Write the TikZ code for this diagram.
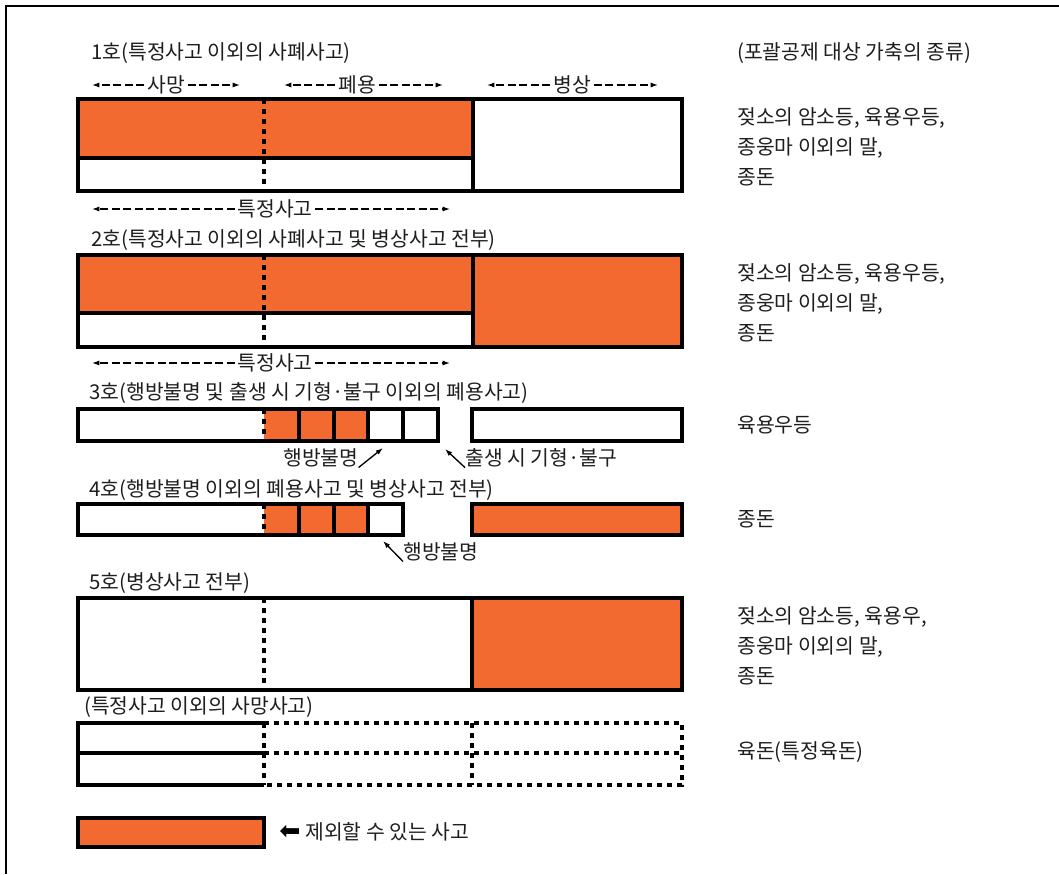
\documentclass[tikz,border=0pt]{standalone}
\usepackage{fontspec}
\setmainfont{Noto Sans CJK KR}
\newfontfamily\symfont{DejaVu Sans}
\usetikzlibrary{arrows.meta}
\definecolor{acc}{RGB}{242,106,48}
\definecolor{ink}{RGB}{30,30,30}
\begin{document}
\begin{tikzpicture}[x=0.75pt,y=-0.75pt,
  txt/.style={font=\fontsize{15.3}{18}\selectfont, inner sep=0pt, anchor=west, text=ink},
  ctxt/.style={font=\fontsize{15.3}{18}\selectfont, inner sep=2pt, text=ink},
  box/.style={line width=2.3pt, line join=miter},
  dotline/.style={line width=2.4pt, dash pattern=on 4pt off 3.5pt},
  dimarrow/.style={line width=0.9pt, dash pattern=on 6pt off 2.6pt, -{Latex[length=5.5pt,width=3.8pt]}},
  diag/.style={line width=1pt, -{Latex[length=5.5pt,width=3.8pt]}},
]
\useasboundingbox (0,0) rectangle (1059,874);
% frame
\draw[line width=1.1pt] (1059,6) -- (6,6) -- (6,874);

% ---------- 1호 ----------
\node[txt] (t1) at (91,53) {1호(특정사고 이외의 사폐사고)};
\node[txt] (rh) at (737,53) {(포괄공제 대상 가축의 종류)};
\node[ctxt] (d1) at (166,85) {사망};
\node[ctxt] (d2) at (357,85) {폐용};
\node[ctxt] (d3) at (572,85) {병상};
\coordinate (d1l) at (92,85); \coordinate (d1r) at (240,85);
\coordinate (d2l) at (284,85); \coordinate (d2r) at (443,85);
\coordinate (d3l) at (487,85); \coordinate (d3r) at (658,85);
\draw[dimarrow] (d1.west) -- (d1l); \draw[dimarrow] (d1.east) -- (d1r);
\draw[dimarrow] (d2.west) -- (d2l); \draw[dimarrow] (d2.east) -- (d2r);
\draw[dimarrow] (d3.west) -- (d3l); \draw[dimarrow] (d3.east) -- (d3r);

\fill[acc] (78,99) rectangle (473,158);
\draw[box] (78,99) rectangle (682,191);
\draw[box] (473,99) -- (473,191);
\draw[box] (78,158) -- (473,158);
\draw[dotline] (264,99) -- (264,191);

\node[txt] (r1a) at (737,118) {젖소의 암소등, 육용우등,};
\node[txt] (r1b) at (737,148) {종웅마 이외의 말,};
\node[txt] (r1c) at (737,177) {종돈};

\node[ctxt] (s1) at (275,209) {특정사고};
\coordinate (s1l) at (92,209); \coordinate (s1r) at (450,209);
\draw[dimarrow] (s1.west) -- (s1l); \draw[dimarrow] (s1.east) -- (s1r);

% ---------- 2호 ----------
\node[txt] (t2) at (91,240) {2호(특정사고 이외의 사폐사고 및 병상사고 전부)};
\fill[acc] (78,255) rectangle (473,313);
\fill[acc] (473,255) rectangle (682,347);
\draw[box] (78,255) rectangle (682,347);
\draw[box] (473,255) -- (473,347);
\draw[box] (78,313) -- (473,313);
\draw[dotline] (264,255) -- (264,347);

\node[txt] (r2a) at (737,274) {젖소의 암소등, 육용우등,};
\node[txt] (r2b) at (737,304) {종웅마 이외의 말,};
\node[txt] (r2c) at (737,333) {종돈};

\node[ctxt] (s2) at (275,363) {특정사고};
\coordinate (s2l) at (92,363); \coordinate (s2r) at (450,363);
\draw[dimarrow] (s2.west) -- (s2l); \draw[dimarrow] (s2.east) -- (s2r);

% ---------- 3호 ----------
\node[txt] (t3) at (89,393) {3호(행방불명 및 출생 시 기형·불구 이외의 폐용사고)};
\fill[acc] (264,409) rectangle (368,441);
\draw[box] (78,409) rectangle (438,441);
\foreach \xx in {299,334,368,403} \draw[box] (\xx,409) -- (\xx,441);
\draw[dotline] (264,409) -- (264,441);
\draw[box] (472,409) rectangle (682,441);

\node[txt] (l3) at (283,458) {행방불명};
\coordinate (l3tip) at (383,448);
\draw[diag] (l3.south east) -- (l3tip);
\node[txt] (b3) at (465,458) {출생 시 기형·불구};
\coordinate (b3tip) at (445,449);
\draw[diag] (b3.south west) -- (b3tip);
\node[txt] (r3) at (737,425) {육용우등};

% ---------- 4호 ----------
\node[txt] (t4) at (89,490) {4호(행방불명 이외의 폐용사고 및 병상사고 전부)};
\fill[acc] (264,504) rectangle (368,535);
\draw[box] (78,504) rectangle (403,535);
\foreach \xx in {299,334,368} \draw[box] (\xx,504) -- (\xx,535);
\draw[dotline] (264,504) -- (264,535);
\fill[acc] (472,504) rectangle (682,535);
\draw[box] (472,504) rectangle (682,535);

\node[txt] (l4) at (403,552) {행방불명};
\coordinate (l4tip) at (383,541);
\draw[diag] (l4.south west) -- (l4tip);
\node[txt] (r4) at (737,519) {종돈};

% ---------- 5호 ----------
\node[txt] (t5) at (89,583) {5호(병상사고 전부)};
\fill[acc] (472,598) rectangle (682,690);
\draw[box] (78,598) rectangle (682,690);
\draw[box] (472,598) -- (472,690);
\draw[dotline] (264,598) -- (264,690);

\node[txt] (r5a) at (737,617) {젖소의 암소등, 육용우,};
\node[txt] (r5b) at (737,647) {종웅마 이외의 말,};
\node[txt] (r5c) at (737,676) {종돈};

% ---------- 특정사고 이외의 사망사고 ----------
\node[txt] (t6) at (84,707) {(특정사고 이외의 사망사고)};
\draw[dotline] (264,723) -- (682,723) -- (682,785) -- (264,785);
\draw[dotline] (264,753) -- (682,753);
\draw[dotline] (264,723) -- (264,785);
\draw[dotline] (472,723) -- (472,785);
\draw[box] (264,723) -- (78,723) -- (78,785) -- (264,785);
\draw[box] (78,753) -- (264,753);
\node[txt] (r6) at (737,752) {육돈(특정육돈)};

% ---------- legend ----------
\fill[acc] (78,818) rectangle (264,847);
\draw[box] (78,818) rectangle (264,847);
\node[inner sep=0pt, font=\symfont\fontsize{19}{20}\selectfont] (larr) at (290,832) {⬅};
\node[txt] (ltxt) at (305,832) {제외할 수 있는 사고};
\end{tikzpicture}
\end{document}
